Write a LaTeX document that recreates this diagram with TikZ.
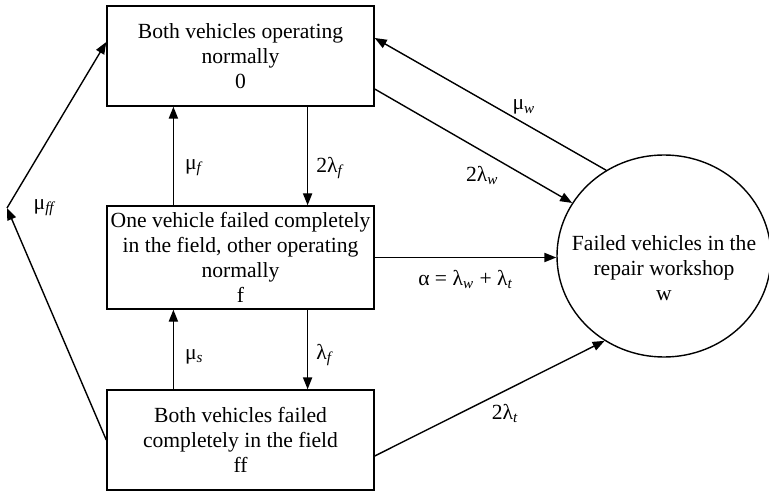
\documentclass[tikz,border=0pt]{standalone}
\usepackage{fontspec}
\setmainfont{Liberation Serif}
\usetikzlibrary{arrows.meta,positioning,shapes.geometric,calc}

\begin{document}
\begin{tikzpicture}[x=0.5pt, y=-0.5pt,
    state/.style={draw, line width=0.7pt, minimum width=133.5pt,
                  minimum height=50pt, align=center, inner sep=1pt,
                  font=\fontsize{10.8}{12.5}\selectfont},
    arr/.style={-{Triangle[length=6pt,width=4.6pt]}, line width=0.7pt},
    lbl/.style={font=\fontsize{10.8}{12}\selectfont, inner sep=1pt}
  ]
  \useasboundingbox (0,0) rectangle (769,491);

  %% ---- states ----
  \node[state] (s0)  at (240.5,56)    {Both vehicles operating\\normally\\0};
  \node[state, minimum height=51.5pt]
               (sf)  at (240.5,257.5) {One vehicle failed completely\\in the field, other operating\\normally\\f};
  \node[state] (sff) at (240.5,440)   {Both vehicles failed\\completely in the field\\ff};
  \node[ellipse, draw, line width=0.7pt, minimum width=107pt, minimum height=101pt,
        inner sep=0pt] (sw) at (664,256) {};
  \node[align=center, inner sep=0pt, font=\fontsize{10.8}{12.5}\selectfont]
               (swtext) at (664,268) {Failed vehicles in the\\repair workshop\\w};
  \coordinate (kink) at (7,208);

  %% ---- vertical transitions ----
  \draw[arr] ($(sf.north west)!0.25!(sf.north east)$) -- ($(s0.south west)!0.25!(s0.south east)$)
    node[lbl, pos=0.38, right=4.5pt] {μ\textsubscript{\itshape f}};
  \draw[arr] ($(s0.south west)!0.75!(s0.south east)$) -- ($(sf.north west)!0.75!(sf.north east)$)
    node[lbl, pos=0.62, right=3pt] {2λ\textsubscript{\itshape f}};
  \draw[arr] ($(sff.north west)!0.25!(sff.north east)$) -- ($(sf.south west)!0.25!(sf.south east)$)
    node[lbl, pos=0.41, right=4.5pt] {μ\textsubscript{\itshape s}};
  \draw[arr] ($(sf.south west)!0.75!(sf.south east)$) -- ($(sff.north west)!0.75!(sff.north east)$)
    node[lbl, pos=0.57, right=3pt] {λ\textsubscript{\itshape f}};

  %% ---- left return path ----
  \draw[arr] (sff.west) -- (kink)
    node[lbl, pos=1, right=12pt] {μ\textsubscript{\itshape ff}};
  \draw[arr] (kink) -- ([yshift=7pt]s0.west);

  %% ---- workshop transitions ----
  \draw[arr] (sw.124) -- ([yshift=9pt]s0.east)
    node[lbl, pos=0.355, above=3pt] {μ\textsubscript{\itshape w}};
  \draw[arr] ([yshift=-16.5pt]s0.east) -- (sw)
    node[lbl, pos=0.545, below=6pt] {2λ\textsubscript{\itshape w}};
  \draw[arr] (sf.east) -- (sf.east -| sw.west)
    node[lbl, pos=0.5, below=5pt] {α = λ\textsubscript{\itshape w} + λ\textsubscript{\itshape t}};
  \draw[arr] ([yshift=-8pt]sff.east) -- (sw.235)
    node[lbl, pos=0.567, below=5.5pt] {2λ\textsubscript{\itshape t}};

\end{tikzpicture}
\end{document}
